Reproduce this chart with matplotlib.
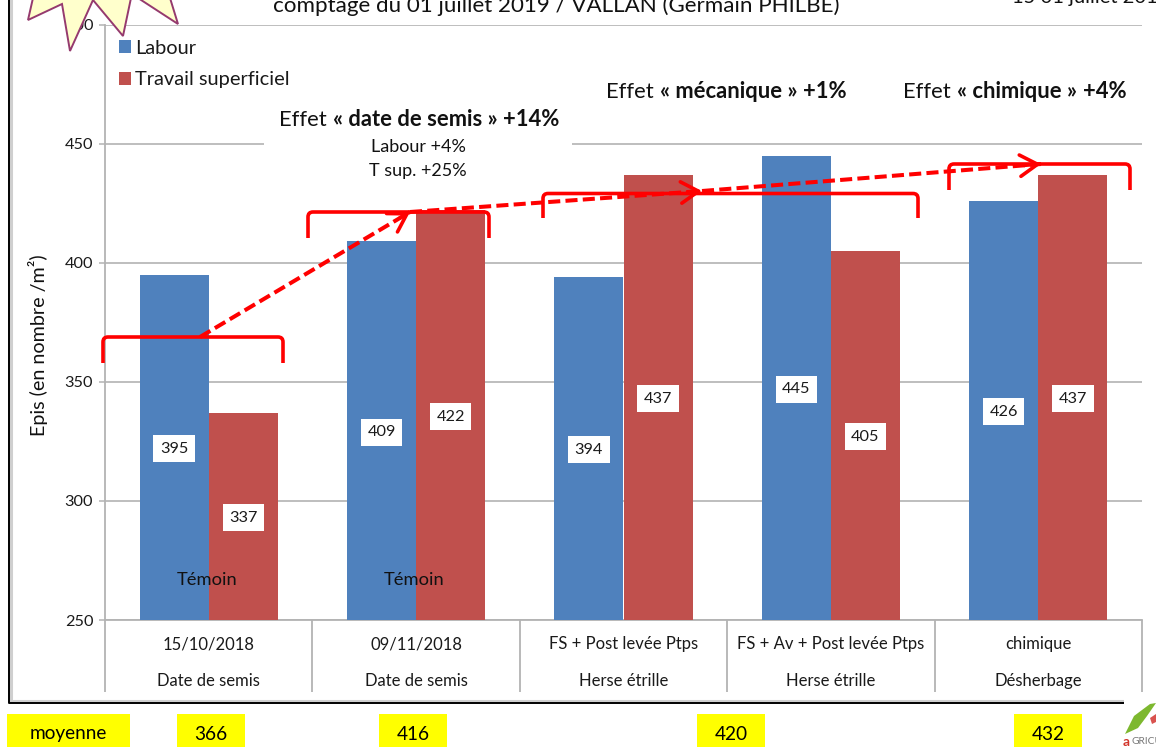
import numpy as np
import matplotlib
matplotlib.use('Agg')
import matplotlib.pyplot as plt
from matplotlib.patches import Polygon, Rectangle, PathPatch, FancyArrowPatch
from matplotlib.path import Path

plt.rcParams['font.family'] = ['Lato', 'DejaVu Sans']

# donnees
niveau1 = ['15/10/2018', '09/11/2018', 'FS + Post levée Ptps', 'FS + Av + Post levée Ptps', 'chimique']
niveau2 = ['Date de semis', 'Date de semis', 'Herse étrille', 'Herse étrille', 'Désherbage']
labour = [395, 409, 394, 445, 426]
travail_sup = [337, 422, 437, 405, 437]
temoin = [0, 1]
yticks = [250, 300, 350, 400, 450, 500]
moyennes = ['moyenne', '366', '416', '420', '432']

BLEU = '#4F81BD'
ROUGE = '#C0504D'
GRIS = '#B3B3B3'
W, H = 1156, 747

fig = plt.figure(figsize=(W/100, H/100), dpi=100, facecolor='white')
# axe principal : x 105-1142 px, y 24.5-620 px
ax = fig.add_axes([105/W, 1-620/H, (1142-105)/W, (620-24.5)/H])
larg = 1/3
x = np.arange(5)
ax.bar(x-larg/2, labour, larg, color=BLEU, edgecolor='none', label='Labour', zorder=3)
ax.bar(x+larg/2, travail_sup, larg, color=ROUGE, edgecolor='none', label='Travail superficiel', zorder=3)
ax.set_xlim(-0.5, 4.5)
ax.set_ylim(250, 500)
ax.set_yticks(yticks)
ax.grid(axis='y', color=GRIS, linewidth=1.2, zorder=0)
ax.set_axisbelow(True)
for s in ['top', 'right']:
	ax.spines[s].set_visible(False)
for s in ['left', 'bottom']:
	ax.spines[s].set_color(GRIS)
	ax.spines[s].set_linewidth(1.3)
ax.tick_params(axis='y', length=4.5, width=1.1, color=GRIS, labelsize=11.7, labelcolor='#1a1a1a', pad=4)
# separateurs des categories = ticks longs
ax.set_xticks(np.arange(-0.5, 5))
ax.set_xticklabels([])
ax.tick_params(axis='x', length=52, width=1.3, color=GRIS)
ax.set_ylabel('Epis (en nombre /m²)', fontsize=14.2, color='#111111', labelpad=0)
ax.yaxis.set_label_coords((48-105)/(1142-105), (620-345)/(620-24.5))

for i in x:
	ax.annotate(niveau1[i], (i, 250), xytext=(0, -24.5), textcoords='offset pixels', ha='center', va='center', fontsize=12, color='#1a1a1a', annotation_clip=False)
	ax.annotate(niveau2[i], (i, 250), xytext=(0, -61), textcoords='offset pixels', ha='center', va='center', fontsize=12, color='#1a1a1a', annotation_clip=False)
	for dx, v in [(-larg/2, labour[i]), (larg/2, travail_sup[i])]:
		ax.annotate(str(v), (i+dx, (250+v)/2), xytext=(0, -1.5), textcoords='offset pixels', ha='center', va='center', fontsize=11.7, color='#1a1a1a', zorder=5,
			bbox=dict(boxstyle='square,pad=0.4', fc='white', ec='none'))
for i in temoin:
	ax.text(i-0.01, 267, 'Témoin', ha='center', va='center', fontsize=13.2, color='#111111', zorder=5)

leg = ax.legend(loc='upper left', bbox_to_anchor=(-0.001, 1.0), frameon=False, fontsize=14.4,
	handlelength=0.62, handleheight=0.62, handletextpad=0.2, labelspacing=0.74, borderaxespad=0.55, borderpad=0.2)
for t in leg.get_texts():
	t.set_color('#1a1a1a')

# couche en pixels pour les annotations
ov = fig.add_axes([0, 0, 1, 1], facecolor='none')
ov.set_xlim(0, W)
ov.set_ylim(H, 0)
ov.axis('off')

# cadre de la diapo
ov.plot([10.5, 10.5, 1124], [0, 700.5, 700.5], color='#CFCFCF', lw=2.2, zorder=1)
ov.plot([8.5, 8.5, 1124], [0, 703, 703], color='black', lw=1.4, zorder=1)

# etoile
etoile = [(33, -2), (28, 20), (62, 4), (70, 51), (93, 0), (123, 36), (131, -2), (138, -2), (178, 24), (170, -2)]
ov.add_patch(Polygon(etoile, closed=True, fc='#FFFFCC', ec='#953A6E', lw=1.4, zorder=6, clip_on=True))

# titre coupe en haut
ov.text(556, 6, 'comptage du 01 juillet 2019 / VALLAN (Germain PHILBE)', ha='center', va='center', fontsize=16.1, color='#111111', clip_on=True)
ov.text(1012, -3, '15 01 juillet 2019', ha='left', va='center', fontsize=14.5, color='#111111', clip_on=True)

# cache blanc sur la grille
ov.add_patch(Rectangle((264, 100), 308, 80, fc='white', ec='none', zorder=2))


def mixte(x0, y0, morceaux, fs=15.8):
	# texte normal / gras a la suite
	r = fig.canvas.get_renderer()
	xc = x0
	for txt, poids in morceaux:
		t = ov.text(xc, y0, txt, ha='left', va='center', fontsize=fs, fontweight=poids, color='#111111', zorder=7)
		xc = ov.transData.inverted().transform(t.get_window_extent(r).get_points())[1, 0] + 6


mixte(279, 119.5, [('Effet', 'normal'), ('« date de semis »', 'bold'), ('+14%', 'bold')])
mixte(606, 91.5, [('Effet', 'normal'), ('« mécanique »', 'bold'), ('+1%', 'bold')])
mixte(903, 91.5, [('Effet', 'normal'), ('« chimique »', 'bold'), ('+4%', 'bold')])
ov.text(418, 147, 'Labour +4%', ha='center', va='center', fontsize=13, color='#111111', zorder=7)
ov.text(418, 171, 'T sup. +25%', ha='center', va='center', fontsize=13, color='#111111', zorder=7)


def accolade(x1, x2, yh, yb):
	c = 5
	verts = [(x1, yb), (x1, yh+c), (x1, yh), (x1+c, yh), (x2-c, yh), (x2, yh), (x2, yh+c), (x2, yb)]
	codes = [Path.MOVETO, Path.LINETO, Path.CURVE3, Path.CURVE3, Path.LINETO, Path.CURVE3, Path.CURVE3, Path.LINETO]
	ov.add_patch(PathPatch(Path(verts, codes), fc='none', ec='#FF0000', lw=2.6, zorder=8))


accolade(103, 283, 337, 363)
accolade(308, 489, 212, 238)
accolade(543, 918, 193.5, 218)
accolade(949, 1130, 164, 190)

fleches = [((200, 337), (410, 212)), ((410, 212), (702, 191)), ((702, 191), (1041, 164))]
for a, b in fleches:
	# trait en tirets, la pointe se dessine a part sur les derniers pixels
	ov.plot([a[0], b[0]], [a[1], b[1]], color='#FF0000', lw=2.9, linestyle=(0, (3, 1.3)), zorder=9)
	a2 = (b[0]-(b[0]-a[0])*0.05, b[1]-(b[1]-a[1])*0.05)
	ov.add_patch(FancyArrowPatch(a2, b, arrowstyle='->,head_length=9,head_width=5.5', mutation_scale=1.4, color='#FF0000',
		lw=2.6, shrinkA=0, shrinkB=0, zorder=9))

# cases jaunes
cases = [(7, 123), (177, 68), (379, 68), (697, 68), (1014, 68)]
for (xc, lc), txt in zip(cases, moyennes):
	ov.add_patch(Rectangle((xc, 714), lc, 33, fc='#FFFF00', ec='none', zorder=3))
	ov.text(xc+lc/2, 734, txt, ha='center', va='center', fontsize=13.7, color='black', zorder=4)

# logo
ov.add_patch(Rectangle((1124, 698), 32, 49, fc='white', ec='none', zorder=3))
ov.add_patch(Polygon([(1125, 734), (1134, 716), (1150, 704), (1156, 703), (1147, 716), (1138, 728)], closed=True, fc='#7DB82F', ec='none', zorder=4))
ov.add_patch(Polygon([(1150, 718), (1156, 714), (1156, 722), (1152, 724)], closed=True, fc='#D9534F', ec='none', zorder=4))
ov.text(1123, 741.5, 'a', ha='left', va='center', fontsize=10, fontweight='bold', color='#D2352B', zorder=4)
ov.text(1132, 742, 'GRICU', ha='left', va='center', fontsize=7.4, color='#777777', zorder=4, clip_on=True)

fig.savefig('out.png', dpi=100)
